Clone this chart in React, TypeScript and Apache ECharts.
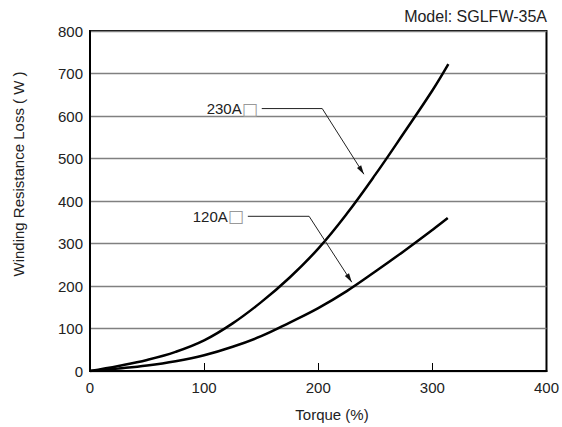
import React, { useEffect, useRef } from "react";
import * as echarts from "echarts";

const torque230 = [0, 25, 50, 75, 100, 125, 150, 175, 200, 225, 250, 275, 300, 314];
const loss230 = [0, 12, 26, 45, 72, 112, 162, 220, 288, 370, 462, 560, 660, 722];

const torque120 = [0, 25, 50, 75, 100, 125, 150, 175, 200, 225, 250, 275, 300, 313.5];
const loss120 = [0, 6, 13, 23, 37, 57, 82, 114, 148, 188, 234, 282, 332, 360];

const xTicks = [0, 100, 200, 300, 400];
const yTicks = [0, 100, 200, 300, 400, 500, 600, 700, 800];

const annoNames = ["230A", "120A"];
const annoStart = [[150.5, 617.5], [138.3, 364]];
const annoCorner = [[203.5, 617.5], [192, 364]];
const annoTip = [[240, 463], [229.4, 209]];

const FONT = "'Liberation Sans', Arial, sans-serif";

export default function App() {
  const ref = useRef<HTMLDivElement>(null);
  useEffect(() => {
    document.body.style.margin = "0";
    const chart = echarts.init(ref.current!, null, { renderer: "svg" });
    const option: any = {
      animation: false,
      backgroundColor: "#fff",
      textStyle: { fontFamily: FONT },
      grid: {
        left: 90,
        right: 13,
        top: 31,
        bottom: 56,
        show: true,
        borderColor: "#000",
        borderWidth: 2,
      },
      xAxis: {
        type: "value",
        min: xTicks[0],
        max: xTicks[xTicks.length - 1],
        interval: 100,
        axisLine: { lineStyle: { color: "#000", width: 2 } },
        axisTick: { show: true, inside: true, length: 8, lineStyle: { color: "#000", width: 1 } },
        axisLabel: { fontSize: 15, color: "#222", margin: 9, fontFamily: FONT },
        splitLine: { show: false },
      },
      yAxis: {
        type: "value",
        min: yTicks[0],
        max: yTicks[yTicks.length - 1],
        interval: 100,
        axisLine: { lineStyle: { color: "#000", width: 2 } },
        axisTick: { show: false },
        axisLabel: { fontSize: 15, color: "#222", margin: 7, fontFamily: FONT },
        splitLine: { show: true, lineStyle: { color: "#808080", width: 1.3 } },
      },
      series: [
        {
          type: "line",
          name: "230A",
          data: torque230.map((t, i) => [t, loss230[i]]),
          showSymbol: false,
          smooth: 0.4,
          lineStyle: { color: "#000", width: 2.5 },
          z: 5,
        },
        {
          type: "line",
          name: "120A",
          data: torque120.map((t, i) => [t, loss120[i]]),
          showSymbol: false,
          smooth: 0.4,
          lineStyle: { color: "#000", width: 2.5 },
          z: 5,
        },
      ],
    };
    chart.setOption(option);

    const px = (p: number[]) => chart.convertToPixel({ gridIndex: 0 }, p) as number[];
    const graphics: any[] = [
      {
        type: "text",
        right: 15,
        top: 8,
        style: { text: "Model: SGLFW-35A", fontSize: 16, fill: "#222", fontFamily: FONT },
      },
      {
        type: "text",
        x: 332,
        y: 414,
        style: { text: "Torque (%)", fontSize: 15, fill: "#222", fontFamily: FONT, align: "center", verticalAlign: "middle" },
      },
      {
        type: "text",
        x: 18,
        y: 174,
        rotation: Math.PI / 2,
        style: { text: "Winding Resistance Loss ( W )", fontSize: 15, fill: "#222", fontFamily: FONT, align: "center", verticalAlign: "middle" },
      },
    ];
    annoNames.forEach((name, i) => {
      const s = px(annoStart[i]);
      const c = px(annoCorner[i]);
      const t = px(annoTip[i]);
      graphics.push({
        type: "polyline",
        shape: { points: [s, c, t] },
        style: { stroke: "#222", lineWidth: 1, fill: null },
        z: 10,
      });
      const dx = t[0] - c[0];
      const dy = t[1] - c[1];
      const L = Math.sqrt(dx * dx + dy * dy);
      const ux = dx / L;
      const uy = dy / L;
      const bx = t[0] - ux * 9;
      const by = t[1] - uy * 9;
      graphics.push({
        type: "polygon",
        shape: { points: [t, [bx - uy * 2.5, by + ux * 2.5], [bx + uy * 2.5, by - ux * 2.5]] },
        style: { fill: "#111" },
        z: 10,
      });
      graphics.push({
        type: "text",
        x: s[0] - 4,
        y: s[1],
        z: 10,
        style: {
          text: "{a|" + name + "}{b|□}",
          align: "right",
          verticalAlign: "middle",
          rich: {
            a: { fontSize: 15, fill: "#222", fontFamily: FONT },
            b: { fontSize: 17, fill: "#999", fontFamily: "'DejaVu Sans', sans-serif" },
          },
        },
      });
    });
    chart.setOption({ graphic: graphics });
    return () => chart.dispose();
  }, []);
  return <div ref={ref} style={{ width: 562, height: 427 }} />;
}
